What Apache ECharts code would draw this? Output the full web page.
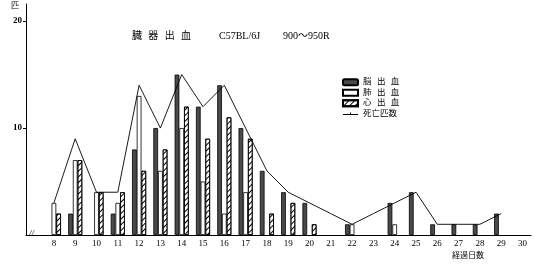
<!DOCTYPE html>
<html>
<head>
<meta charset="utf-8">
<script src="https://cdn.jsdelivr.net/npm/echarts@6/dist/echarts.min.js"></script>
<style>html,body{margin:0;padding:0;background:#fff}#c{width:533px;height:267px}</style>
</head>
<body>
<div id="c"></div>
<script>
// days after irradiation
const days = [8, 9, 10, 11, 12, 13, 14, 15, 16, 17, 18, 19, 20, 21, 22, 23, 24, 25, 26, 27, 28, 29, 30];
// 脳出血
const brain = [0, 2, 0, 2, 8, 10, 15, 12, 14, 10, 6, 4, 3, 0, 1, 0, 3, 4, 1, 1, 1, 2, 0];
// 肺出血
const lung  = [3, 7, 4, 3, 13, 6, 10, 5, 2, 4, 0, 0, 0, 0, 1, 0, 1, 0, 0, 0, 0, 0, 0];
// 心出血
const heart = [2, 7, 4, 4, 6, 8, 12, 9, 11, 9, 2, 3, 1, 0, 0, 0, 0, 0, 0, 0, 0, 0, 0];
// 死亡匹数 (days 8..29)
const deathDays = [8, 9, 10, 11, 12, 13, 14, 15, 16, 17, 18, 19, 20, 21, 22, 23, 24, 25, 26, 27, 28, 29];
const deaths = [3, 9, 4, 4, 14, 10, 15, 12, 14, 10, 6, 4, 3, 2, 1, 2, 3, 4, 1, 1, 1, 2];
const yTicks = [10, 20];

const F = '"Liberation Serif", "Noto Sans CJK JP", serif';
const J = '"DejaVu Sans", "Noto Sans CJK JP", sans-serif';
const toPairs = arr => days.map((d, i) => [d, arr[i] === 0 ? '-' : arr[i]]);

const chart = echarts.init(document.getElementById('c'));
const barCommon = { type: 'bar', barWidth: 4.7, barGap: '0%', animation: false };
chart.setOption({
  animation: false,
  textStyle: { fontFamily: F, color: '#000' },
  grid: { left: 26, right: 2, top: 4, bottom: 32 },
  xAxis: {
    type: 'value', min: 6.69, max: 30.4,
    axisLine: { lineStyle: { color: '#000', width: 1 } },
    axisTick: { show: false },
    splitLine: { show: false },
    axisLabel: { customValues: days, fontSize: 9, color: '#000', margin: 4, fontFamily: F }
  },
  yAxis: {
    type: 'value', min: 0, max: 21.6,
    axisLine: { show: true, lineStyle: { color: '#000', width: 1 } },
    axisTick: { show: true, customValues: yTicks, length: 3, lineStyle: { color: '#000' } },
    splitLine: { show: false },
    axisLabel: { customValues: yTicks, fontSize: 9, fontWeight: 'bold', color: '#000', margin: 4, fontFamily: F }
  },
  legend: {
    orient: 'vertical', left: 342, top: 77, padding: 0, itemWidth: 15, itemHeight: 6, itemGap: 0,
    textStyle: { fontSize: 8.5, fontFamily: J, color: '#000', lineHeight: 10.5 },
    data: [
      { name: '脳  出  血', icon: 'roundRect' },
      { name: '肺  出  血', icon: 'rect' },
      { name: '心  出  血', icon: 'rect' },
      { name: '死亡匹数', icon: 'path://M0,2.2H7V0.5H8V2.2H15V3.2H0Z' }
    ]
  },
  graphic: [
    { type: 'text', left: 11, top: 2, style: { text: '匹', fontSize: 8, fontFamily: J, fill: '#000' } },
    { type: 'text', left: 132, top: 31, style: { text: '臓  器  出  血', fontSize: 10, fontFamily: J, fill: '#000' } },
    { type: 'text', left: 219, top: 31, style: { text: 'C57BL/6J', fontSize: 10, fontFamily: F, fill: '#000' } },
    { type: 'text', left: 283, top: 31, style: { text: '900〜950R', fontSize: 10, fontFamily: F, fill: '#000' } },
    { type: 'text', left: 452, top: 252, style: { text: '経過日数', fontSize: 8, fontFamily: J, fill: '#000' } },
    { type: 'text', left: 29, top: 229, style: { text: '//', fontSize: 9, fontStyle: 'italic', fontFamily: F, fill: '#000' } }
  ],
  series: [
    Object.assign({}, barCommon, {
      name: '脳  出  血', data: toPairs(brain),
      itemStyle: { color: '#4a4a4a', borderColor: '#000', borderWidth: 0.8 }
    }),
    Object.assign({}, barCommon, {
      name: '肺  出  血', data: toPairs(lung),
      itemStyle: { color: '#fff', borderColor: '#000', borderWidth: 0.8 }
    }),
    Object.assign({}, barCommon, {
      name: '心  出  血', data: toPairs(heart),
      itemStyle: {
        color: '#fff', borderColor: '#000', borderWidth: 0.8,
        decal: { symbol: 'rect', symbolSize: 1, dashArrayX: [1, 0], dashArrayY: [1, 2.5], rotation: -Math.PI / 4, color: '#000' }
      }
    }),
    {
      type: 'line', name: '死亡匹数', animation: false,
      data: deathDays.map((d, i) => [d, deaths[i]]),
      symbol: 'none', lineStyle: { color: '#000', width: 0.9 }, itemStyle: { color: '#000' }
    }
  ]
});
</script>
</body>
</html>
